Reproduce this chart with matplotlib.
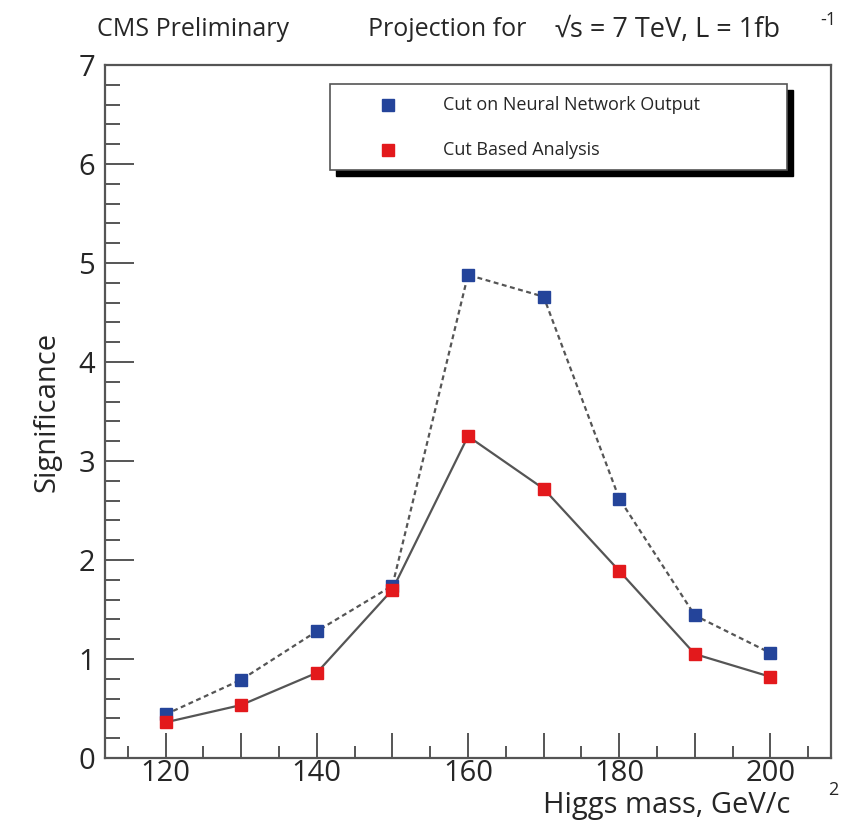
"""
CMS projection: significance vs Higgs mass for two selections
"""
import matplotlib.pyplot as plt
from matplotlib.ticker import MultipleLocator, FuncFormatter
from matplotlib.patches import Rectangle

plt.rcParams["font.family"] = ["Open Sans", "DejaVu Sans"]

masses = [120, 130, 140, 150, 160, 170, 180, 190, 200]
sig_nn = [0.44, 0.79, 1.28, 1.74, 4.88, 4.66, 2.62, 1.44, 1.06]
sig_cut = [0.36, 0.535, 0.86, 1.70, 3.25, 2.72, 1.89, 1.05, 0.82]
labels = ["Cut on Neural Network Output", "Cut Based Analysis"]

W, H = 854, 833
fig = plt.figure(figsize=(W / 100, H / 100), dpi=100)
ax = fig.add_axes([105 / W, (H - 758) / H, (831 - 105) / W, (758 - 65) / H])

line_col = "#555555"
txt_col = "#262626"
blue, red = "#24449a", "#e3191c"

ax.plot(masses, sig_nn, color=line_col, lw=1.6, ls=(0, (2.2, 1.6)), zorder=2)
ax.plot(masses, sig_cut, color=line_col, lw=1.6, zorder=2)
ax.plot(masses, sig_nn, ls="none", marker="s", ms=9, color=blue, zorder=3)
ax.plot(masses, sig_cut, ls="none", marker="s", ms=9, color=red, zorder=3)

ax.set_xlim(112, 208)
ax.set_ylim(0, 7)
ax.xaxis.set_major_locator(MultipleLocator(10))
ax.xaxis.set_minor_locator(MultipleLocator(5))
ax.xaxis.set_major_formatter(FuncFormatter(lambda v, p: f"{v:.0f}" if v % 20 == 0 else ""))
ax.yaxis.set_major_locator(MultipleLocator(1))
ax.yaxis.set_minor_locator(MultipleLocator(0.2))
ax.yaxis.set_major_formatter(FuncFormatter(lambda v, p: f"{v:.0f}"))

for s in ax.spines.values():
    s.set_color(line_col)
    s.set_linewidth(1.6)
ax.tick_params(which="both", direction="in", color=line_col, width=1.4,
               labelsize=21, labelcolor=txt_col, top=False, right=False)
ax.tick_params(axis="y", which="major", length=21, pad=7)
ax.tick_params(axis="y", which="minor", length=11)
ax.tick_params(axis="x", which="major", length=18, pad=1)
ax.tick_params(axis="x", which="minor", length=9)

ax.set_ylabel("Significance", fontsize=21, color=txt_col, labelpad=12)
fig.text(790 / W, 1 - 805 / H, "Higgs mass, GeV/c", fontsize=21, color=txt_col,
         ha="right", va="center")
fig.text(833 / W, 1 - 790 / H, "2", fontsize=13, color=txt_col, ha="center", va="center")

# header
fig.text(97 / W, 1 - 30 / H, "CMS Preliminary", fontsize=18, color=txt_col, va="center")
fig.text(368 / W, 1 - 30 / H, "Projection for", fontsize=18, color=txt_col, va="center")
fig.text(555 / W, 1 - 30 / H, "\u221as = 7 TeV, L = 1fb", fontsize=19.5, color=txt_col,
         va="center")
fig.text(820 / W, 1 - 20 / H, "-1", fontsize=13, color=txt_col, va="center")

# ROOT-style legend box with shadow
lx0, lx1, ly0, ly1 = 330 / W, 787 / W, 1 - 170 / H, 1 - 84 / H
fig.patches.append(Rectangle((lx0 + 6 / W, ly0 - 6 / H), lx1 - lx0, ly1 - ly0,
                             transform=fig.transFigure, facecolor="black",
                             edgecolor="black", zorder=4))
fig.patches.append(Rectangle((lx0, ly0), lx1 - lx0, ly1 - ly0,
                             transform=fig.transFigure, facecolor="white",
                             edgecolor=line_col, lw=1.2, zorder=5))
for lbl, col, yy in zip(labels, [blue, red], [105, 150]):
    fig.add_artist(plt.Line2D([388 / W], [1 - yy / H], marker="s", ms=9, color=col,
                              transform=fig.transFigure, zorder=6))
    fig.text(443 / W, 1 - yy / H, lbl, fontsize=13, color=txt_col, va="center", zorder=6)

plt.savefig("out.png", dpi=100)
